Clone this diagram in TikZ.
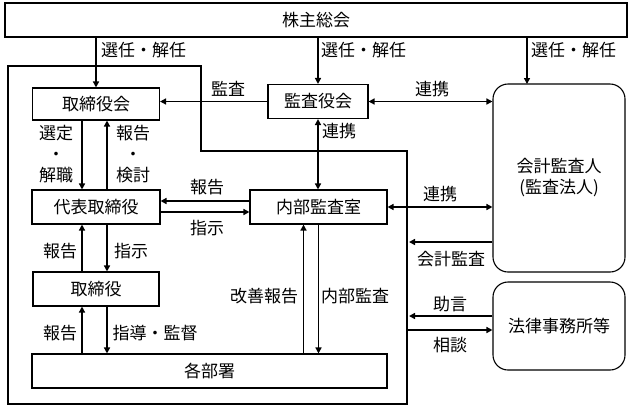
\documentclass[tikz,border=0pt]{standalone}
\usepackage{fontspec}
\setmainfont{Noto Sans CJK JP}
\usetikzlibrary{arrows.meta}
\begin{document}
\begin{tikzpicture}[x=1pt,y=-1pt,
  every node/.style={font=\fontsize{17}{21}\selectfont, inner sep=0pt},
  box/.style={draw, line width=1.1pt, fill=white},
  rbox/.style={box, rounded corners=15pt},
  arr/.style={line width=1.6pt, -{Triangle[length=6pt,width=6pt]}},
  darr/.style={line width=1.6pt, {Triangle[length=6pt,width=6pt]}-{Triangle[length=6pt,width=6pt]}},
  lbl/.style={align=center}]
\useasboundingbox (0,0) rectangle (631,408);
% company boundary
\draw[line width=1.6pt] (8,66) -- (201,66) -- (201,151) -- (407,151) -- (407,404) -- (8,404) -- cycle;
% boxes
\node[box, minimum width=622pt, minimum height=34pt] (kabu) at (316,20) {株主総会};
\node[box, minimum width=127pt, minimum height=32pt] (torikai) at (96,104) {取締役会};
\node[box, minimum width=100pt, minimum height=34pt] (kansa) at (318,101.5) {監査役会};
\node[box, minimum width=128pt, minimum height=34pt] (daihyo) at (96,207) {代表取締役};
\node[box, minimum width=137pt, minimum height=34pt] (naibu) at (318.5,207) {内部監査室};
\node[box, minimum width=126pt, minimum height=34pt] (tori) at (96,289) {取締役};
\node[box, minimum width=355pt, minimum height=34pt] (kakubu) at (209.5,371) {各部署};
\node[rbox, minimum width=132pt, minimum height=188pt, align=center] (kaikei) at (559,178) {会計監査人\\(監査法人)};
\node[rbox, minimum width=132pt, minimum height=88pt] (houritsu) at (559,326) {法律事務所等};
% free ends at the boundary
\coordinate (e1) at (409,242);
\coordinate (e2) at (409,316);
\coordinate (e3) at (407,330);
% connectors
\draw[arr] (kabu.south -| torikai) -- (torikai.north);
\draw[arr] (kabu.south -| kansa) -- (kansa.north);
\draw[arr] (kabu.south -| 527,0) -- (527,84);
\draw[arr] (kansa.west) -- (kansa.west -| torikai.east);
\draw[darr] (kansa.east) -- (kansa.east -| kaikei.west);
\draw[darr] (kansa.south) -- (kansa.south |- naibu.north);
\draw[arr] ([xshift=-14pt]torikai.south) -- ([xshift=-14pt]daihyo.north);
\draw[arr] ([xshift=11pt]daihyo.north) -- ([xshift=11pt]torikai.south);
\draw[arr] ([yshift=6pt]naibu.west) -- ([yshift=6pt]naibu.west -| daihyo.east);
\draw[arr] ([yshift=-5pt]daihyo.east) -- ([yshift=-5pt]daihyo.east -| naibu.west);
\draw[arr] ([xshift=-14pt]tori.north) -- ([xshift=-14pt]daihyo.south);
\draw[arr] ([xshift=11pt]daihyo.south) -- ([xshift=11pt]tori.north);
\draw[arr] ([xshift=-14pt]tori.south |- kakubu.north) -- ([xshift=-14pt]tori.south);
\draw[arr] ([xshift=11pt]tori.south) -- ([xshift=11pt]tori.south |- kakubu.north);
\draw[arr] ([xshift=-15pt]naibu.south |- kakubu.north) -- ([xshift=-15pt]naibu.south);
\draw[arr] (naibu.south) -- (naibu.south |- kakubu.north);
\draw[darr] (naibu.east) -- (naibu.east -| kaikei.west);
\draw[arr] (e1 -| kaikei.west) -- (e1);
\draw[arr] (e2 -| houritsu.west) -- (e2);
\draw[arr] (e3) -- (e3 -| houritsu.west);
% labels
\node[lbl, anchor=west] (l1) at (101,50) {選任・解任};
\node[lbl, anchor=west] (l2) at (321,50) {選任・解任};
\node[lbl, anchor=west] (l3) at (531,50) {選任・解任};
\node[lbl] (l4) at (228,89) {監査};
\node[lbl] (l5) at (432,89) {連携};
\node[lbl, anchor=west] (l6) at (322,131) {連携};
\node[lbl] (l7) at (56,154) {選定\\・\\解職};
\node[lbl] (l8) at (133,154) {報告\\・\\検討};
\node[lbl] (l9) at (207,187) {報告};
\node[lbl] (l10) at (207,228) {指示};
\node[lbl] (l11) at (440,194) {連携};
\node[lbl] (l12) at (60,251) {報告};
\node[lbl] (l13) at (131,251) {指示};
\node[lbl] (l14) at (451,259) {会計監査};
\node[lbl] (l15) at (264,296) {改善報告};
\node[lbl] (l16) at (355,296) {内部監査};
\node[lbl] (l17) at (450,304) {助言};
\node[lbl] (l18) at (450,345) {相談};
\node[lbl] (l19) at (60,333) {報告};
\node[lbl] (l20) at (155,333) {指導・監督};
\end{tikzpicture}
\end{document}
